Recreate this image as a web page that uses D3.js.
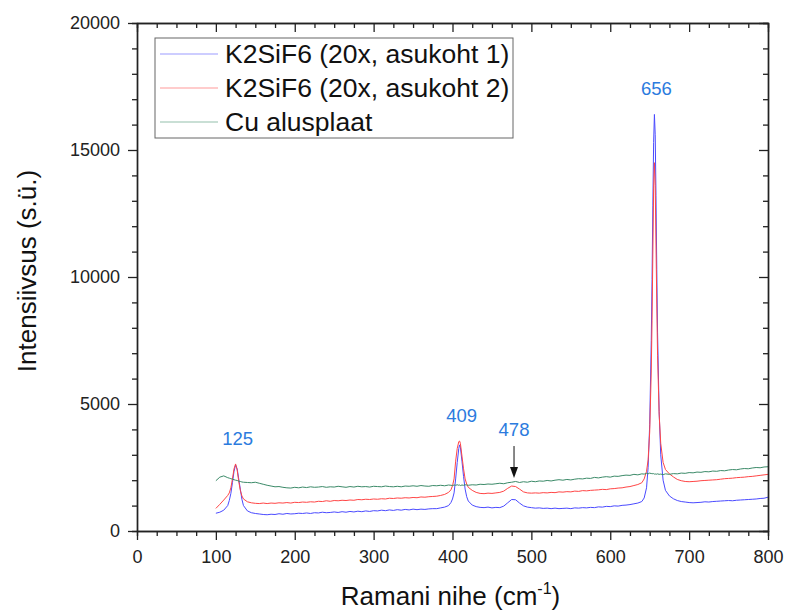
<!DOCTYPE html>
<html>
<head>
<meta charset="utf-8">
<script src="https://cdn.jsdelivr.net/npm/d3@7/dist/d3.min.js"></script>
<style>
  html, body { margin: 0; padding: 0; background: #fff; }
  svg { display: block; font-family: "Liberation Sans", Arial, sans-serif; }
</style>
</head>
<body>
<svg id="chart" width="789" height="613"></svg>
<script>
// Raman shift grid (cm^-1), denser around the peaks
const shift = [
  100,105,110,115,117,119,121,123,125,127,129,131,133,135,
  140,145,150,155,160,165,170,175,180,185,190,195,200,205,210,215,220,225,230,235,
  240,245,250,255,260,265,270,275,280,285,290,295,300,305,310,315,320,325,330,335,
  340,345,350,355,360,365,370,375,380,385,390,395,
  398,400,402,404,406,408,409,410,412,414,416,418,420,
  425,430,435,440,445,450,455,460,465,470,475,480,485,490,495,500,505,510,515,520,
  525,530,535,540,545,550,555,560,565,570,575,580,585,590,595,600,605,610,615,620,
  625,630,635,640,
  643,646,648,650,652,653,654,655,656,657,658,659,660,662,664,667,670,
  675,680,685,690,695,700,705,710,715,720,725,730,735,740,745,750,755,760,765,770,
  775,780,785,790,795,800
];

// K2SiF6 (20x, asukoht 1)
const site1 = [
  700,740,820,1000,1200,1480,1900,2350,2600,2450,2050,1650,1250,1000,
  790,720,690,670,650,640,660,650,680,660,690,670,680,700,690,710,690,720,710,740,
  720,730,750,730,760,740,770,750,780,760,790,770,800,790,820,800,830,810,840,820,
  850,830,860,840,860,850,870,880,880,910,940,1000,
  1120,1260,1500,2050,2700,3250,3390,3300,2750,2150,1650,1350,1180,
  1020,960,930,920,940,910,930,920,980,1110,1240,1230,1100,990,940,920,900,910,890,900,
  880,900,880,890,900,880,910,900,920,910,930,920,950,940,970,960,990,980,1010,1020,
  1040,1070,1100,1160,
  1300,1700,2500,4200,7500,9900,12800,15300,16400,15600,13200,10300,7800,4700,3000,2000,1600,
  1380,1270,1200,1160,1140,1120,1110,1120,1130,1150,1140,1160,1170,1180,1190,1200,1190,1210,1220,1230,
  1240,1250,1260,1280,1290,1330
];

// K2SiF6 (20x, asukoht 2)
const site2 = [
  890,1050,1220,1400,1500,1700,2050,2450,2640,2400,1950,1600,1380,1260,
  1150,1110,1090,1080,1100,1080,1100,1090,1110,1100,1120,1100,1130,1120,1140,1130,1150,1140,1170,1160,
  1190,1170,1200,1190,1210,1200,1220,1210,1240,1230,1250,1240,1260,1250,1270,1260,1290,1280,1300,1290,
  1310,1300,1320,1310,1340,1330,1350,1360,1370,1400,1440,1520,
  1620,1780,2050,2750,3250,3520,3540,3450,2950,2450,2050,1850,1720,
  1600,1520,1480,1470,1490,1480,1500,1520,1570,1680,1770,1750,1650,1540,1500,1490,1500,1490,1510,1500,
  1520,1510,1540,1530,1550,1540,1570,1560,1590,1580,1600,1610,1620,1640,1630,1660,1670,1690,1700,1730,
  1750,1790,1830,1900,
  2050,2350,2800,3900,6300,8300,10900,13500,14500,13600,11300,8900,6900,4600,3450,2700,2420,
  2250,2130,2030,1980,1950,1940,1950,1960,1980,1990,2000,2010,2020,2040,2060,2070,2080,2100,2110,2120,
  2140,2150,2170,2190,2210,2230
];

// Cu alusplaat
const substrate = [
  1980,2120,2170,2100,2080,2060,2040,2020,2000,1990,1960,1950,1930,1920,
  1910,1900,1920,1880,1840,1800,1770,1740,1750,1720,1700,1690,1720,1700,1730,1710,1740,1720,1730,1750,
  1720,1740,1730,1760,1740,1720,1750,1730,1760,1740,1750,1730,1760,1750,1740,1770,1750,1740,1760,1740,
  1770,1760,1780,1760,1790,1770,1760,1790,1780,1800,1780,1810,
  1800,1790,1810,1800,1820,1800,1810,1790,1810,1800,1820,1810,1800,
  1820,1810,1840,1830,1850,1840,1860,1880,1860,1900,1920,1950,1910,1940,1920,1960,1940,1970,1960,1990,
  1970,2000,2020,2000,2030,2010,2040,2060,2050,2080,2070,2110,2090,2120,2140,2120,2160,2150,2180,2200,
  2190,2230,2210,2250,
  2240,2270,2250,2280,2260,2270,2250,2260,2240,2250,2230,2240,2250,2230,2240,2220,2250,
  2230,2260,2250,2280,2270,2300,2290,2320,2310,2340,2330,2360,2350,2380,2370,2400,2420,2410,2440,2460,
  2450,2480,2500,2490,2520,2530
];

const seriesNames = ["K2SiF6 (20x, asukoht 1)", "K2SiF6 (20x, asukoht 2)", "Cu alusplaat"];
const seriesValues = [site1, site2, substrate];
const seriesColors = ["#4a4aff", "#ff4545", "#3b8a68"];

// Peak annotations
const peakPositions = [125, 409, 478, 656];
const peakTexts = ["125", "409", "478", "656"];

const xTicks = [0, 100, 200, 300, 400, 500, 600, 700, 800];
const yTicks = [0, 5000, 10000, 15000, 20000];

const svg = d3.select("#chart");
const W = 789, H = 613;
const m = { left: 137, right: 21, top: 23, bottom: 82 };
const x = d3.scaleLinear().domain([0, 800]).range([m.left, W - m.right]);
const y = d3.scaleLinear().domain([0, 20000]).range([H - m.bottom, m.top]);
const axisColor = "#222";
const FONT = '"Liberation Sans", Arial, sans-serif';

// spectra
const line = d3.line().x(d => x(d[0])).y(d => y(d[1]));
seriesValues.forEach((vals, i) => {
  svg.append("path")
    .datum(shift.map((s, k) => [s, vals[k]]))
    .attr("d", line)
    .attr("fill", "none")
    .attr("stroke", seriesColors[i])
    .attr("stroke-width", 1)
    .attr("stroke-linejoin", "round");
});

// axes: bottom & left with outward ticks, top & right with inward ticks
function styleAxis(g) {
  g.selectAll("path.domain").attr("stroke", axisColor).attr("stroke-width", 1.4);
  g.selectAll(".tick line").attr("stroke", axisColor).attr("stroke-width", 1.3);
  g.selectAll(".tick text").attr("fill", "#222").style("font-size", "18px")
    .style("font-family", FONT);
}
const xMinor = d3.range(0, 801, 25).filter(v => v % 100 !== 0);
const yMinor = d3.range(0, 20001, 1000).filter(v => v % 5000 !== 0);
const MAJ = 9, MIN = 5;

// minor ticks
const gx = svg.append("g").attr("transform", `translate(0,${y(0)})`)
  .call(d3.axisBottom(x).tickValues(xMinor).tickSize(MIN).tickFormat(""));
const gy = svg.append("g").attr("transform", `translate(${x(0)},0)`)
  .call(d3.axisLeft(y).tickValues(yMinor).tickSize(MIN).tickFormat(""));
const gt = svg.append("g").attr("transform", `translate(0,${y(20000)})`)
  .call(d3.axisBottom(x).tickValues(xMinor).tickSize(MIN).tickFormat(""));
const gr = svg.append("g").attr("transform", `translate(${x(800)},0)`)
  .call(d3.axisLeft(y).tickValues(yMinor).tickSize(MIN).tickFormat(""));
[gx, gy, gt, gr].forEach(styleAxis);

// major ticks with labels
const gxM = svg.append("g").attr("transform", `translate(0,${y(0)})`)
  .call(d3.axisBottom(x).tickValues(xTicks).tickSize(MAJ).tickSizeOuter(0).tickPadding(10).tickFormat(d3.format("d")));
const gyM = svg.append("g").attr("transform", `translate(${x(0)},0)`)
  .call(d3.axisLeft(y).tickValues(yTicks).tickSize(MAJ).tickSizeOuter(0).tickPadding(8).tickFormat(d3.format("d")));
const gtM = svg.append("g").attr("transform", `translate(0,${y(20000)})`)
  .call(d3.axisBottom(x).tickValues(xTicks).tickSize(MAJ).tickSizeOuter(0).tickFormat(""));
const grM = svg.append("g").attr("transform", `translate(${x(800)},0)`)
  .call(d3.axisLeft(y).tickValues(yTicks).tickSize(MAJ).tickSizeOuter(0).tickFormat(""));
[gxM, gyM, gtM, grM].forEach(styleAxis);

// axis titles
svg.append("text")
  .attr("x", (x(0) + x(800)) / 2 - 2).attr("y", 605)
  .attr("text-anchor", "middle").style("font-size", "26px").attr("fill", "#111")
  .call(t => {
    t.append("tspan").text("Ramani nihe (cm");
    t.append("tspan").text("-1").attr("dy", -11).style("font-size", "16px");
    t.append("tspan").text(")").attr("dy", 11);
  });
svg.append("text")
  .attr("transform", `translate(36,${(y(0) + y(20000)) / 2 - 6}) rotate(-90)`)
  .attr("text-anchor", "middle").style("font-size", "26px").attr("fill", "#111")
  .text("Intensiivsus (s.ü.)");

// peak labels
const annColor = "#2b7bde";
const peakMax = p => {
  const k = shift.indexOf(p);
  if (k >= 0) return d3.max(seriesValues, v => v[k]);
  const j = d3.bisectLeft(shift, p);
  return d3.max(seriesValues.slice(0, 2), v => Math.max(v[j - 1], v[j]));
};
peakPositions.forEach((p, i) => {
  const isArrow = peakTexts[i] === "478";
  const top = y(peakMax(p));
  const ty = isArrow ? top - 50 : top - 19;
  svg.append("text")
    .attr("x", x(p) + (isArrow ? 0 : 2)).attr("y", ty)
    .attr("text-anchor", "middle").style("font-size", "18.5px")
    .attr("fill", annColor).text(peakTexts[i]);
  if (isArrow) {
    const ax = x(p), y0 = ty + 10, y1 = top - 8;
    svg.append("line").attr("x1", ax).attr("x2", ax).attr("y1", y0).attr("y2", y1 - 9)
      .attr("stroke", "#111").attr("stroke-width", 1);
    svg.append("path")
      .attr("d", `M${ax - 4},${y1 - 11} L${ax + 4},${y1 - 11} L${ax},${y1} Z`)
      .attr("fill", "#111");
  }
});

// legend
const lg = svg.append("g").attr("transform", "translate(155,38)");
lg.append("rect").attr("width", 358).attr("height", 100)
  .attr("fill", "#fff").attr("stroke", "#666").attr("stroke-width", 1);
seriesNames.forEach((name, i) => {
  const cy = 16 + i * 34;
  lg.append("line").attr("x1", 5).attr("x2", 63).attr("y1", cy).attr("y2", cy)
    .attr("stroke", seriesColors[i]).attr("stroke-opacity", 0.55).attr("stroke-width", 1);
  lg.append("text").attr("x", 70).attr("y", cy + 9)
    .style("font-size", "26.5px").attr("fill", "#111").text(name);
});
</script>
</body>
</html>
